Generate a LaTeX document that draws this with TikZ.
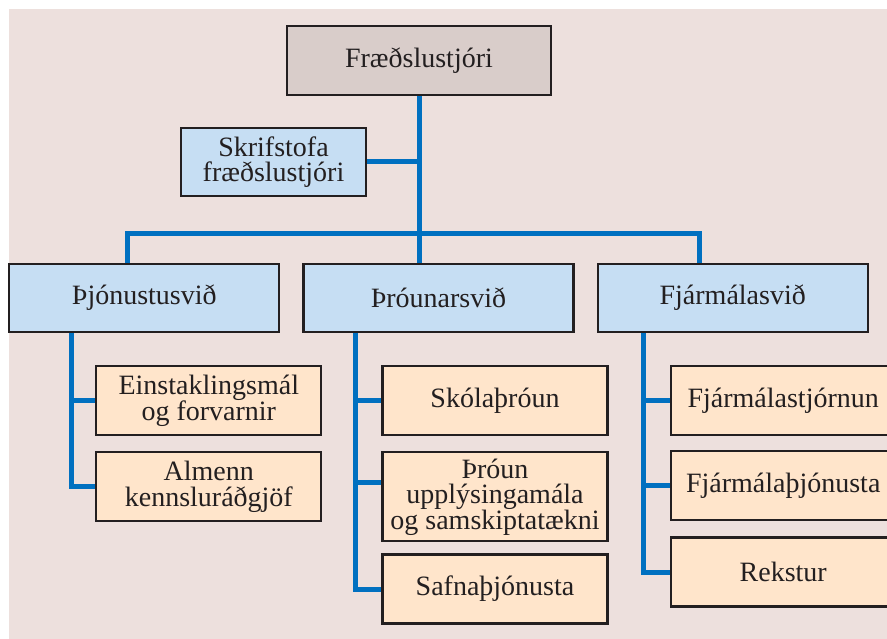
\documentclass[tikz,border=0pt]{standalone}
\usepackage{fontspec}
\setmainfont{Liberation Serif}
\usetikzlibrary{positioning}
\definecolor{pagebg}{RGB}{237,224,221}
\definecolor{headfill}{RGB}{217,205,202}
\definecolor{unitfill}{RGB}{198,222,243}
\definecolor{subfill}{RGB}{255,229,203}
\definecolor{linkblue}{RGB}{0,112,192}
\definecolor{boxline}{RGB}{35,31,32}
\definecolor{ink}{RGB}{35,31,32}

\begin{document}
\begin{tikzpicture}[x=1pt, y=1pt,
node distance= 15pt and 22pt,
     base/.style = {draw=boxline, line width=2.2pt, align=center, text=ink,
                    font=\fontsize{28}{25.5}\selectfont, inner sep=2pt},
     head/.style = {base, fill=headfill, minimum width=264pt, minimum height=69pt},
     unit/.style = {base, fill=unitfill, minimum width=270pt, minimum height=68pt},
   office/.style = {base, fill=unitfill, minimum width=185pt, minimum height=68pt},
      sub/.style = {base, fill=subfill, minimum width=225pt, minimum height=69pt},
     link/.style = {draw=linkblue, line width=5pt}
                    ]
\path[use as bounding box, clip] (0,0) rectangle (887,639);
\fill[pagebg] (9,0) rectangle (887,630);

 % top
\node (boss)  [head]   at (419,578.5) {Fræðslustjóri};
\node (skr)   [office] at (273.5,477)  {Skrifstofa\\fræðslustjóri};
\coordinate (hub) at ([yshift=-137pt]boss.south);

 % departments
\node (thro)  [unit] at (438.5,341) {Þróunarsvið};
\node (thj)   [unit, left=of thro]  {Þjónustusvið};
\node (fjs)   [unit, right=of thro] {Fjármálasvið};

 % under Þjónustusvið
\node (einst) [sub, below right=32pt and 87pt of thj.south west] {Einstaklingsmál\\og forvarnir};
\node (alm)   [sub, below=of einst] {Almenn\\kennsluráðgjöf};

 % under Þróunarsvið
\node (skol)  [sub, below right=32pt and 79pt of thro.south west] {Skólaþróun};
\node (upp)   [sub, below=of skol, minimum height=89pt] {Þróun\\upplýsingamála\\og samskiptatækni};
\node (safn)  [sub, below=11pt of upp] {Safnaþjónusta};

 % under Fjármálasvið
\node (stj)   [sub, below right=32pt and 73pt of fjs.south west] {Fjármálastjórnun};
\node (fjth)  [sub, below=14pt of stj] {Fjármálaþjónusta};
\node (rek)   [sub, below=of fjth] {Rekstur};

 % links
\draw[link] (boss.south) -- (hub) -- (hub |- thro.north);
\draw[link] (skr.east) -- (skr.east -| boss.south);
\draw[link] ([xshift=-17pt]thj.north) |- (hub) -| ([xshift=-33pt]fjs.north);

\coordinate (ltop) at ([xshift=63pt]thj.south west);
\draw[link] (ltop) |- (alm.west);
\draw[link] (einst.west) -- (einst.west -| ltop);

\coordinate (mtop) at ([xshift=53pt]thro.south west);
\draw[link] (mtop) |- (safn.west);
\draw[link] (skol.west) -- (skol.west -| mtop);
\draw[link] ([yshift=14pt]upp.west) -- ([yshift=14pt]upp.west -| mtop);

\coordinate (rtop) at ([xshift=47pt]fjs.south west);
\draw[link] (rtop) |- (rek.west);
\draw[link] (stj.west) -- (stj.west -| rtop);
\draw[link] (fjth.west) -- (fjth.west -| rtop);
\end{tikzpicture}
\end{document}
